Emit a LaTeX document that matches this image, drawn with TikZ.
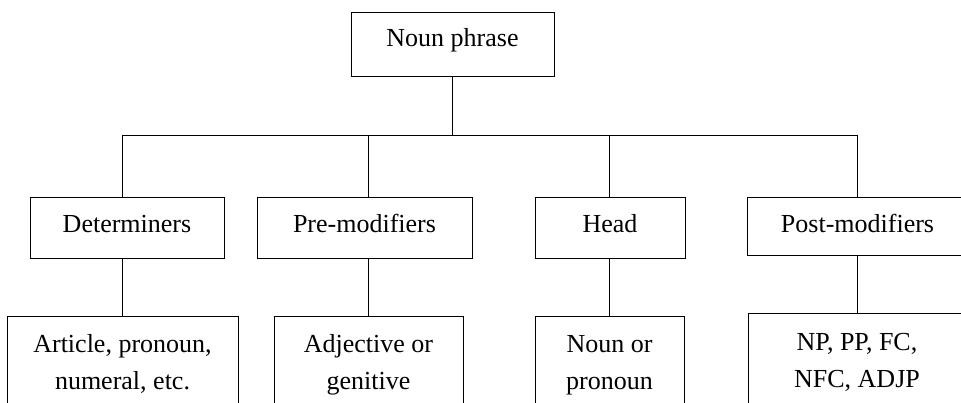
\documentclass[tikz,border=0pt]{standalone}
\usepackage{fontspec}
\setmainfont{Liberation Serif}
\usepackage{tikz}
\usetikzlibrary{positioning}

\begin{document}
\begin{tikzpicture}[x=1pt,y=-1pt,line width=.8pt,
        box/.style={draw, anchor=north, inner xsep=0pt, inner ysep=0pt, align=center,
                    font=\fontsize{26}{37}\selectfont},
        rank/.style={box, text height=35pt, text depth=26pt},
        leaf/.style={box, text height=73pt, text depth=40pt}]
        \useasboundingbox (0,0) rectangle (961,403);
        \clip (0,0) rectangle (961,403);
        % top
        \node[box, minimum width=203pt, text height=34pt, text depth=30pt] (nphr) at (452.5,12) {Noun phrase};
        \coordinate (bar) at (452.5,135);
        % middle row
        \node[rank, minimum width=194pt] (det) at (127,197) {Determiners};
        \node[rank, minimum width=215pt] (pre) at (364.5,197) {Pre-modifiers};
        \node[rank, minimum width=150pt] (head) at (610,197) {Head};
        \node[rank, minimum width=221pt, text depth=23pt] (post) at (857.5,197) {Post-modifiers};
        % bottom row
        \node[leaf, minimum width=231pt] (art) at (122.5,316) {Article, pronoun,\\numeral, etc.};
        \node[leaf, minimum width=189pt] (adj) at (368.5,316) {Adjective or\\genitive};
        \node[leaf, minimum width=149pt] (noun) at (609.5,316) {Noun or\\pronoun};
        \node[leaf, minimum width=218pt, text height=74pt] (list) at (857,313) {NP, PP, FC,\\NFC, ADJP};

        \draw (nphr.south) -- (bar);
        \draw (art.north |- bar) -- (list.north |- bar);
        \foreach \up/\low in {det/art, pre/adj, head/noun, post/list} {
          \draw (\low.north |- bar) -- (\up.north -| \low.north);
          \draw (\up.south -| \low.north) -- (\low.north);
        }
\end{tikzpicture}
\end{document}
